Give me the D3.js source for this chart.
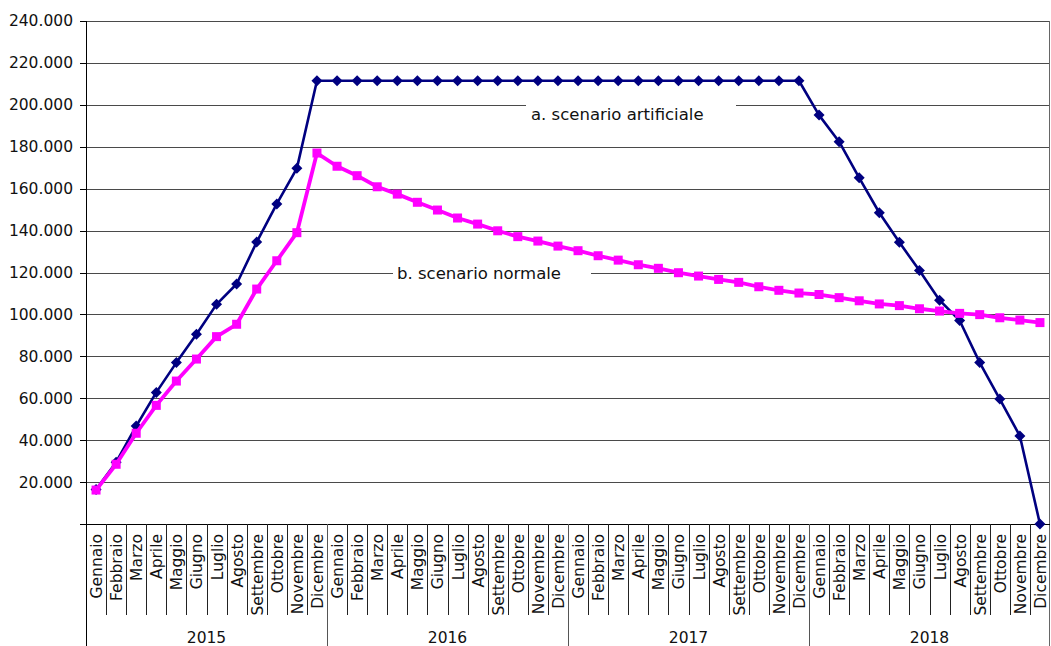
<!DOCTYPE html>
<html>
<head>
<meta charset="utf-8">
<script src="https://cdn.jsdelivr.net/npm/d3@7"></script>
<style>
  html, body { margin: 0; padding: 0; background: #fff; }
  svg { display: block; font-family: "DejaVu Sans", Verdana, sans-serif; }
</style>
</head>
<body>
<svg id="chart" width="1051" height="646"></svg>
<script>
// Categories
const years = ["2015", "2016", "2017", "2018"];
const months = ["Gennaio", "Febbraio", "Marzo", "Aprile", "Maggio", "Giugno",
                "Luglio", "Agosto", "Settembre", "Ottobre", "Novembre", "Dicembre"];

// a. scenario artificiale (monthly values)
const scenarioArtificiale = [
  16500, 29500, 46700, 62800, 77000, 90500, 104800, 114500, 134500, 152700, 169700, 211500,
  211500, 211500, 211500, 211500, 211500, 211500, 211500, 211500, 211500, 211500, 211500, 211500,
  211500, 211500, 211500, 211500, 211500, 211500, 211500, 211500, 211500, 211500, 211500, 211500,
  195100, 182400, 165200, 148500, 134400, 120900, 106800, 97100, 77000, 59600, 42000, 0
];

// b. scenario normale (monthly values)
const scenarioNormale = [
  16200, 28500, 43300, 56600, 68200, 78700, 89400, 95300, 112100, 125600, 139000, 177000,
  170700, 166200, 160900, 157400, 153500, 149800, 146000, 143100, 139900, 137100, 135000, 132600,
  130400, 128000, 125900, 123700, 122000, 119900, 118300, 116700, 115300, 113200, 111500, 110200,
  109500, 108000, 106500, 105000, 104200, 102700, 101600, 100500, 99900, 98400, 97300, 96100
];

// Y axis ticks
const yTicks = [0, 20000, 40000, 60000, 80000, 100000, 120000, 140000, 160000, 180000, 200000, 220000, 240000];

// Series labels: text and the gridline value they sit on
const seriesLabels = [
  { text: "a. scenario artificiale", value: 200000, box: [526, 736], tx: 531, dy: 15 },
  { text: "b. scenario normale", value: 120000, box: [393, 591], tx: 397, dy: 6 }
];

// ---------------------------------------------------------------
const svg = d3.select("#chart");
const plotL = 86, plotR = 1050, plotT = 21, plotB = 524;
const H = 646;

const cats = [];
years.forEach(yr => months.forEach(m => cats.push(yr + "|" + m)));

const x = d3.scaleBand().domain(cats).range([plotL, plotR]).paddingInner(0).paddingOuter(0);
const y = d3.scaleLinear().domain([0, 240000]).range([plotB, plotT]);

const it = d3.formatLocale({ decimal: ",", thousands: ".", grouping: [3], currency: ["€", ""] });
const fmt = it.format(",d");

// Horizontal gridlines
const grid = svg.append("g")
  .attr("transform", `translate(${plotL},0)`)
  .call(d3.axisLeft(y).tickValues(yTicks.slice(1)).tickSize(-(plotR - plotL)).tickFormat(""));
grid.select(".domain").remove();
grid.selectAll("line").attr("stroke", "#4a4a4a").attr("stroke-width", 1).attr("shape-rendering", "crispEdges");

// Right border of the plot
svg.append("line")
  .attr("x1", plotR - 0.5).attr("x2", plotR - 0.5)
  .attr("y1", plotT).attr("y2", H)
  .attr("stroke", "#666").attr("shape-rendering", "crispEdges");

// Y axis with ticks and labels
const yAxis = svg.append("g")
  .attr("transform", `translate(${plotL},0)`)
  .call(d3.axisLeft(y).tickValues(yTicks).tickSize(6).tickPadding(7)
    .tickFormat(d => d === 0 ? "" : fmt(d)));
yAxis.select(".domain").remove();
yAxis.selectAll("line").attr("stroke", "#000").attr("shape-rendering", "crispEdges");
yAxis.selectAll("text")
  .attr("font-family", "DejaVu Sans, Verdana, sans-serif")
  .attr("font-size", 15.5).attr("fill", "#111");

// Left axis line runs down through the category area
svg.append("line")
  .attr("x1", plotL).attr("x2", plotL).attr("y1", plotT).attr("y2", H)
  .attr("stroke", "#000").attr("shape-rendering", "crispEdges");

// Category axis line
svg.append("line")
  .attr("x1", plotL).attr("x2", plotR).attr("y1", plotB).attr("y2", plotB)
  .attr("stroke", "#000").attr("shape-rendering", "crispEdges");

// Month separators and year separators
const catAxis = svg.append("g");
cats.forEach((c, i) => {
  if (i === 0) return;
  const xb = Math.round(x(c)) + 0.5;
  const isYear = i % 12 === 0;
  catAxis.append("line")
    .attr("x1", xb).attr("x2", xb)
    .attr("y1", plotB).attr("y2", isYear ? H : 615)
    .attr("stroke", isYear ? "#555" : "#222")
    .attr("stroke-width", 1);
});

// Month labels (rotated)
catAxis.selectAll("text.month")
  .data(cats)
  .join("text")
  .attr("class", "month")
  .attr("transform", d => `translate(${x(d) + x.bandwidth() / 2 + 1},${plotB + 10}) rotate(-90)`)
  .attr("text-anchor", "end")
  .attr("dominant-baseline", "central")
  .attr("font-size", 15.5)
  .attr("fill", "#111")
  .text(d => d.split("|")[1]);

// Year labels
svg.selectAll("text.year")
  .data(years)
  .join("text")
  .attr("class", "year")
  .attr("x", yr => {
    const a = x(yr + "|" + months[0]);
    const b = x(yr + "|" + months[11]) + x.bandwidth();
    return (a + b) / 2;
  })
  .attr("y", 643)
  .attr("text-anchor", "middle")
  .attr("font-size", 15.5)
  .attr("fill", "#111")
  .text(d => d);

// Series labels sitting over gridlines
seriesLabels.forEach(l => {
  const gy = y(l.value);
  svg.append("rect")
    .attr("x", l.box[0]).attr("y", gy - 9)
    .attr("width", l.box[1] - l.box[0]).attr("height", 18)
    .attr("fill", "#fff");
  svg.append("text")
    .attr("x", l.tx).attr("y", gy + l.dy)
    .attr("font-size", 16.5)
    .attr("fill", "#111")
    .text(l.text);
});

// Lines
const line = d3.line()
  .x((d, i) => x(cats[i]) + x.bandwidth() / 2)
  .y(d => y(d));

// a. scenario artificiale
svg.append("path")
  .datum(scenarioArtificiale)
  .attr("d", line)
  .attr("fill", "none")
  .attr("stroke", "#000080")
  .attr("stroke-width", 2.6)
  .attr("stroke-linejoin", "round");

svg.append("g").selectAll("path")
  .data(scenarioArtificiale)
  .join("path")
  .attr("transform", (d, i) => `translate(${x(cats[i]) + x.bandwidth() / 2},${y(d)})`)
  .attr("d", "M0,-5.5L5.5,0L0,5.5L-5.5,0Z")
  .attr("fill", "#000080");

// b. scenario normale
svg.append("path")
  .datum(scenarioNormale)
  .attr("d", line)
  .attr("fill", "none")
  .attr("stroke", "#FF00FF")
  .attr("stroke-width", 3.8)
  .attr("stroke-linejoin", "round");

svg.append("g").selectAll("rect")
  .data(scenarioNormale)
  .join("rect")
  .attr("x", (d, i) => x(cats[i]) + x.bandwidth() / 2 - 4.5)
  .attr("y", d => y(d) - 4.5)
  .attr("width", 9).attr("height", 9)
  .attr("fill", "#FF00FF");
</script>
</body>
</html>
